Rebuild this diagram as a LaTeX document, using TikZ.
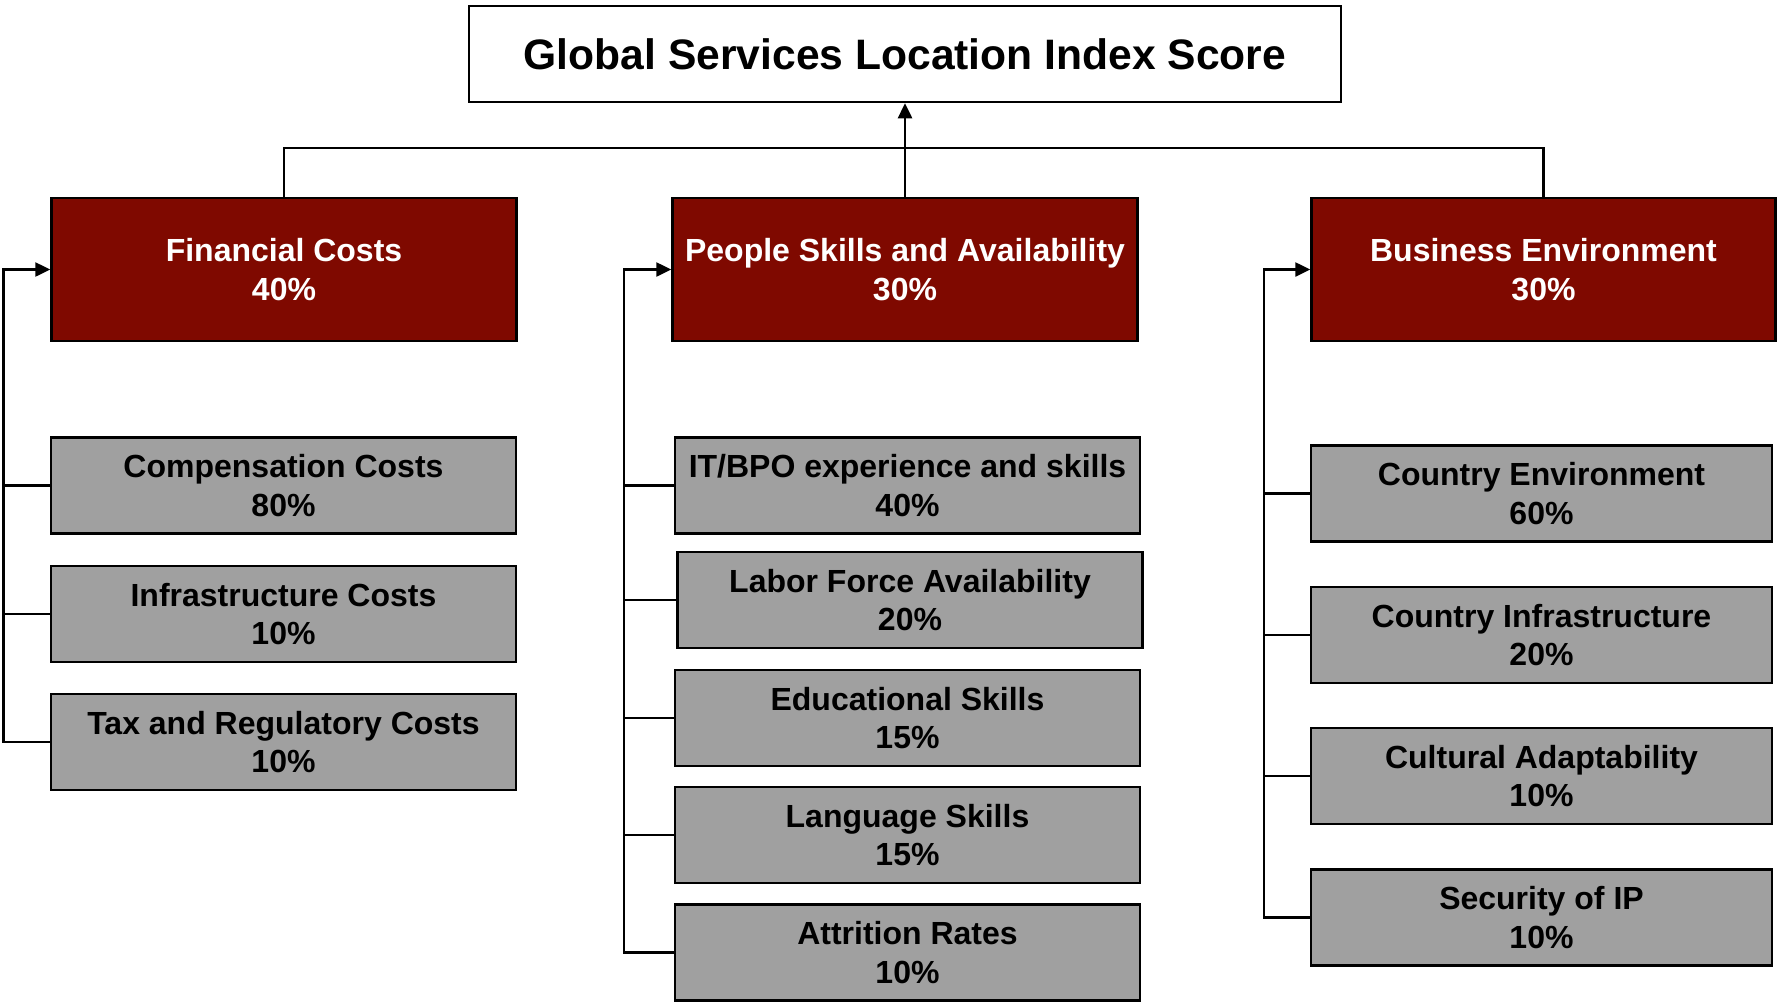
\documentclass[tikz,border=0pt]{standalone}
\usepackage{fontspec}
\setmainfont{Liberation Sans}
\usetikzlibrary{arrows.meta}
\definecolor{boxred}{RGB}{127,9,0}
\definecolor{boxgray}{RGB}{160,160,160}
\begin{document}
\begin{tikzpicture}[x=1pt,y=-1pt,
  every node/.style={inner sep=0pt, align=center, font=\bfseries\fontsize{32}{38.5}\selectfont},
  titlebox/.style={draw=black, line width=2.5pt, fill=white, minimum width=872pt, minimum height=96pt,
                   font=\bfseries\fontsize{42.6}{50}\selectfont},
  factorbox/.style={draw=black, line width=2.5pt, fill=boxred, text=white, minimum width=465pt, minimum height=143pt,
                    text depth=-4.5pt},
  subbox/.style={draw=black, line width=2.5pt, fill=boxgray, text=black, minimum width=465pt, minimum height=96pt,
                 text depth=-4.5pt},
  link/.style={line width=2.5pt, line join=miter},
  tip/.style={link, -{Triangle[length=15pt,width=14pt]}}
]
\useasboundingbox (0,0) rectangle (1777,1002);

% overall score
\node[titlebox] (title) at (905,54) {Global Services Location Index Score};

% three weighted factors
\node[factorbox] (fin) at (284,269.5) {Financial Costs\\40\%};
\node[factorbox] (ppl) at (905,269.5) {People Skills and Availability\\30\%};
\node[factorbox, minimum width=464pt] (bus) at (1543.5,269.5) {Business Environment\\30\%};

% financial costs components
\node[subbox] (f1) at (283.5,485.5) {Compensation Costs\\80\%};
\node[subbox] (f2) at (283.5,614) {Infrastructure Costs\\10\%};
\node[subbox] (f3) at (283.5,742) {Tax and Regulatory Costs\\10\%};

% people skills components
\node[subbox] (p1) at (907.5,485.5) {IT/BPO experience and skills\\40\%};
\node[subbox] (p2) at (910,600) {Labor Force Availability\\20\%};
\node[subbox] (p3) at (907.5,718) {Educational Skills\\15\%};
\node[subbox] (p4) at (907.5,835) {Language Skills\\15\%};
\node[subbox] (p5) at (907.5,952.5) {Attrition Rates\\10\%};

% business environment components
\node[subbox, minimum width=461pt] (b1) at (1541.5,493.5) {Country Environment\\60\%};
\node[subbox, minimum width=461pt] (b2) at (1541.5,635) {Country Infrastructure\\20\%};
\node[subbox, minimum width=461pt] (b3) at (1541.5,776) {Cultural Adaptability\\10\%};
\node[subbox, minimum width=461pt] (b4) at (1541.5,917.5) {Security of IP\\10\%};

% helper positions for the bus and the three spines
\coordinate (busy) at (0,148);
\coordinate (fs) at (3.5,0);
\coordinate (ps) at (624,0);
\coordinate (bs) at (1264,0);

% factors feed the overall score
\draw[link] (fin.north) -- (fin.north |- busy) -- (bus.north |- busy) -- (bus.north);
\draw[tip] (ppl.north) -- (title.south);

% financial spine
\draw[tip] (f3.west) -- (fs |- f3.west) -- (fs |- fin.west) -- (fin.west);
\draw[link] (fs |- f1.west) -- (f1.west);
\draw[link] (fs |- f2.west) -- (f2.west);

% people spine
\draw[tip] (p5.west) -- (ps |- p5.west) -- (ps |- ppl.west) -- (ppl.west);
\draw[link] (ps |- p1.west) -- (p1.west);
\draw[link] (ps |- p2.west) -- (p2.west);
\draw[link] (ps |- p3.west) -- (p3.west);
\draw[link] (ps |- p4.west) -- (p4.west);

% business spine
\draw[tip] (b4.west) -- (bs |- b4.west) -- (bs |- bus.west) -- (bus.west);
\draw[link] (bs |- b1.west) -- (b1.west);
\draw[link] (bs |- b2.west) -- (b2.west);
\draw[link] (bs |- b3.west) -- (b3.west);
\end{tikzpicture}
\end{document}
